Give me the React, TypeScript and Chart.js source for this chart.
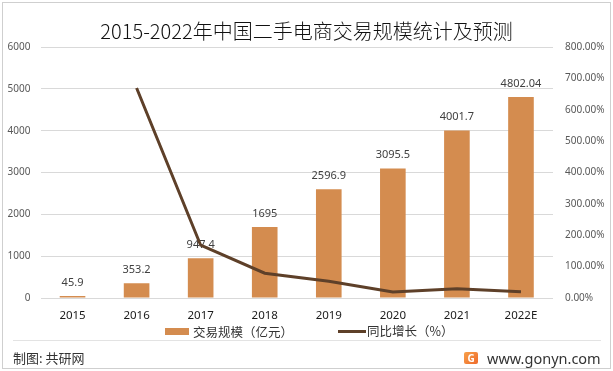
import React, { useEffect, useRef } from "react";
import { Chart, registerables } from "chart.js";

Chart.register(...registerables);

const TITLE = "2015-2022年中国二手电商交易规模统计及预测";
const CATEGORIES = ["2015", "2016", "2017", "2018", "2019", "2020", "2021", "2022E"];
const SCALE_VALUES = [45.9, 353.2, 947.4, 1695, 2596.9, 3095.5, 4001.7, 4802.04];
const SCALE_LABELS = ["45.9", "353.2", "947.4", "1695", "2596.9", "3095.5", "4001.7", "4802.04"];
const GROWTH_VALUES: (number | null)[] = [null, 669.5, 168.2, 78.9, 53.2, 19.2, 29.3, 20.0];
const BAR_NAME = "交易规模（亿元）";
const LINE_NAME = "同比增长（%）";

const BAR_COLOR = "#D48C4F";
const LINE_COLOR = "#5E4029";
const CJK = '"Noto Sans CJK SC", "Noto Sans", sans-serif';
const LAT = '"Noto Sans", "Noto Sans CJK SC", sans-serif';

export default function App() {
  const ref = useRef<HTMLCanvasElement | null>(null);

  useEffect(() => {
    if (!ref.current) return;
    const labelPlugin = {
      id: "barLabels",
      afterDatasetDraw(chart: any, args: any) {
        if (args.index !== 0) return;
        const ctx = chart.ctx;
        const meta = chart.getDatasetMeta(0);
        ctx.save();
        ctx.font = `11px ${LAT}`;
        ctx.fillStyle = "#404040";
        ctx.textAlign = "center";
        ctx.textBaseline = "middle";
        meta.data.forEach((el: any, i: number) => {
          ctx.fillText(SCALE_LABELS[i], el.x, el.y - 13.5);
        });
        ctx.restore();
      },
    };

    const chart = new Chart(ref.current, {
      type: "bar",
      data: {
        labels: CATEGORIES,
        datasets: [
          {
            type: "bar",
            label: BAR_NAME,
            data: SCALE_VALUES,
            backgroundColor: BAR_COLOR,
            yAxisID: "y",
            barPercentage: 0.5,
            categoryPercentage: 0.8,
            order: 1,
          } as any,
          {
            type: "line",
            label: LINE_NAME,
            data: GROWTH_VALUES,
            borderColor: LINE_COLOR,
            backgroundColor: LINE_COLOR,
            borderWidth: 3,
            pointRadius: 0,
            tension: 0,
            yAxisID: "y1",
            order: 0,
          } as any,
        ],
      },
      options: {
        animation: false,
        responsive: false,
        maintainAspectRatio: false,
        layout: { padding: { left: 0, right: 0, top: 0, bottom: 0 } },
        plugins: {
          legend: { display: false },
          tooltip: { enabled: false },
          title: {
            display: true,
            text: TITLE,
            color: "#111111",
            font: { family: CJK, size: 20, weight: 300 as any, lineHeight: 1.2 },
            padding: { top: 19.5, bottom: 3.5 },
          },
        },
        scales: {
          x: {
            grid: { display: false, drawTicks: false },
            border: { display: false },
            ticks: {
              color: "#1a1a1a",
              font: { family: LAT, size: 11.5 },
              padding: 11,
              maxRotation: 0,
            },
            afterFit(scale: any) {
              scale.height = 73;
            },
          },
          y: {
            position: "left",
            min: 0,
            max: 6000,
            ticks: {
              stepSize: 1000,
              color: "#595959",
              font: { family: LAT, size: 10 },
              padding: 10,
              callback: (v: any) => String(v),
            },
            grid: { color: "#d9d9d9", drawTicks: false, lineWidth: 1 },
            border: { display: false },
            afterFit(scale: any) {
              scale.width = 40.5;
            },
          },
          y1: {
            position: "right",
            min: 0,
            max: 800,
            ticks: {
              stepSize: 100,
              color: "#595959",
              font: { family: LAT, size: 10 },
              padding: 12,
              callback: (v: any) => Number(v).toFixed(2) + "%",
            },
            grid: { drawOnChartArea: false, drawTicks: false },
            border: { display: false },
            afterFit(scale: any) {
              scale.width = 60;
            },
          },
        },
      },
      plugins: [labelPlugin],
    });
    return () => chart.destroy();
  }, []);

  return (
    <div
      style={{
        position: "fixed",
        left: 0,
        top: 0,
        width: 613,
        height: 371,
        background: "#ffffff",
        overflow: "hidden",
      }}
    >
      <canvas ref={ref} width={613} height={371} style={{ position: "absolute", left: 0, top: 0, width: 613, height: 371 }} />
      <div
        style={{
          position: "absolute",
          left: 2,
          top: 2,
          width: 607,
          height: 365,
          border: "1px solid #cfcfcf",
          pointerEvents: "none",
        }}
      />
      {/* legend */}
      <div style={{ position: "absolute", left: 165, top: 328, width: 24, height: 7, background: BAR_COLOR }} />
      <div
        style={{
          position: "absolute",
          left: 193,
          top: 323,
          height: 18,
          lineHeight: "18px",
          fontFamily: CJK,
          fontSize: 12.5,
          color: "#333333",
          whiteSpace: "nowrap",
        }}
      >
        {BAR_NAME}
      </div>
      <div style={{ position: "absolute", left: 338, top: 329.5, width: 28, height: 3, background: LINE_COLOR }} />
      <div
        style={{
          position: "absolute",
          left: 367,
          top: 322,
          height: 18,
          lineHeight: "18px",
          fontFamily: CJK,
          fontSize: 12.5,
          color: "#333333",
          whiteSpace: "nowrap",
        }}
      >
        {LINE_NAME}
      </div>
      {/* footer */}
      <div style={{ position: "absolute", left: 13, top: 340, width: 588, height: 1, background: "#e3e3e3" }} />
      <div
        style={{
          position: "absolute",
          left: 13,
          top: 349,
          height: 18,
          lineHeight: "18px",
          fontFamily: CJK,
          fontSize: 13,
          color: "#333333",
          whiteSpace: "nowrap",
        }}
      >
        制图: 共研网
      </div>
      <div
        style={{
          position: "absolute",
          left: 464,
          top: 352,
          width: 14,
          height: 12,
          borderRadius: 2,
          background: "linear-gradient(135deg, #f7a04a 0%, #ee6a2c 100%)",
          color: "#ffffff",
          fontFamily: LAT,
          fontWeight: "bold",
          fontSize: 10,
          lineHeight: "12px",
          textAlign: "center",
        }}
      >
        G
      </div>
      <div
        style={{
          position: "absolute",
          left: 487,
          top: 348,
          height: 20,
          lineHeight: "20px",
          fontFamily: LAT,
          fontSize: 14.5,
          color: "#333333",
          whiteSpace: "nowrap",
        }}
      >
        www.gonyn.com
      </div>
    </div>
  );
}
